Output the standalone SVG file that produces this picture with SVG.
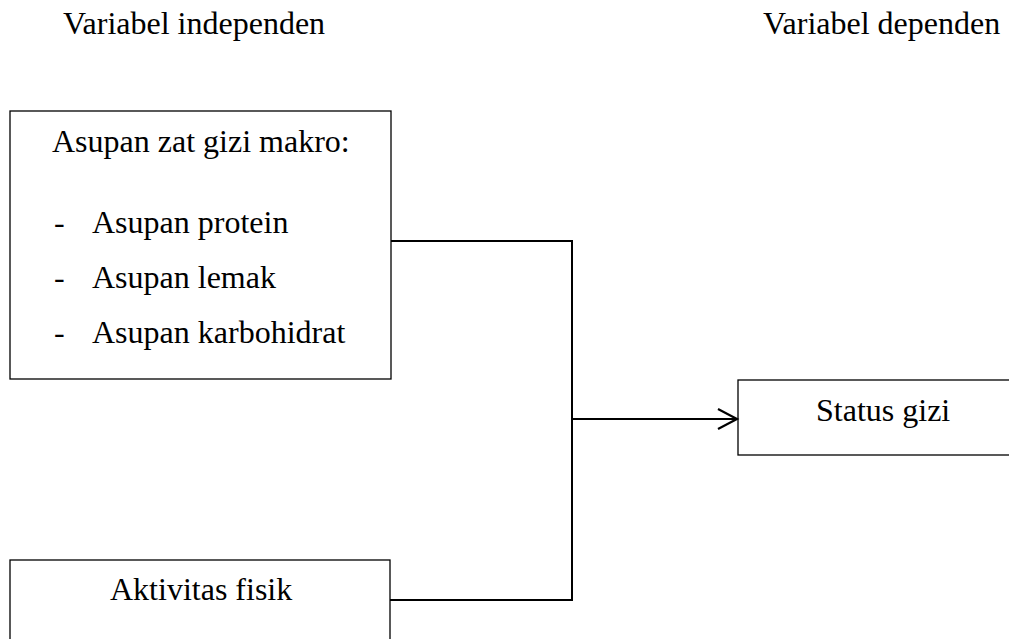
<svg xmlns="http://www.w3.org/2000/svg" width="1009" height="639" viewBox="0 0 1009 639">
<style>
text{font-family:"Liberation Serif","Times New Roman",serif;font-size:32px;fill:#000}
.box{fill:#fff;stroke:#000;stroke-width:1.3}
.con{fill:none;stroke:#000;stroke-width:2}
</style>
<defs>
<marker id="arr" markerWidth="24" markerHeight="24" viewBox="0 0 24 24" refX="21" refY="12" orient="auto" markerUnits="userSpaceOnUse">
<path d="M2,2 L21,12 L2,22" fill="none" stroke="#000" stroke-width="2.2"/>
</marker>
</defs>
<rect width="1009" height="639" fill="#fff"/>
<g id="header">
<text x="63" y="34">Variabel independen</text>
<text x="763" y="34">Variabel dependen</text>
</g>
<g id="node-asupan">
<rect class="box" x="10" y="111" width="381" height="268"/>
<text x="52" y="152">Asupan zat gizi makro:</text>
<text x="54" y="233">-</text><text x="92" y="233">Asupan protein</text>
<text x="54" y="288">-</text><text x="92" y="288">Asupan lemak</text>
<text x="54" y="343">-</text><text x="92" y="343">Asupan karbohidrat</text>
</g>
<g id="node-aktivitas">
<rect class="box" x="10" y="560" width="380" height="100"/>
<text x="110" y="600">Aktivitas fisik</text>
</g>
<g id="node-status">
<rect class="box" x="738" y="380" width="290" height="75"/>
<text x="816" y="421">Status gizi</text>
</g>
<g id="connectors">
<path class="con" d="M391,241 H572 V600 H390"/>
<path class="con" d="M572,419 H737" marker-end="url(#arr)"/>
</g>
</svg>
